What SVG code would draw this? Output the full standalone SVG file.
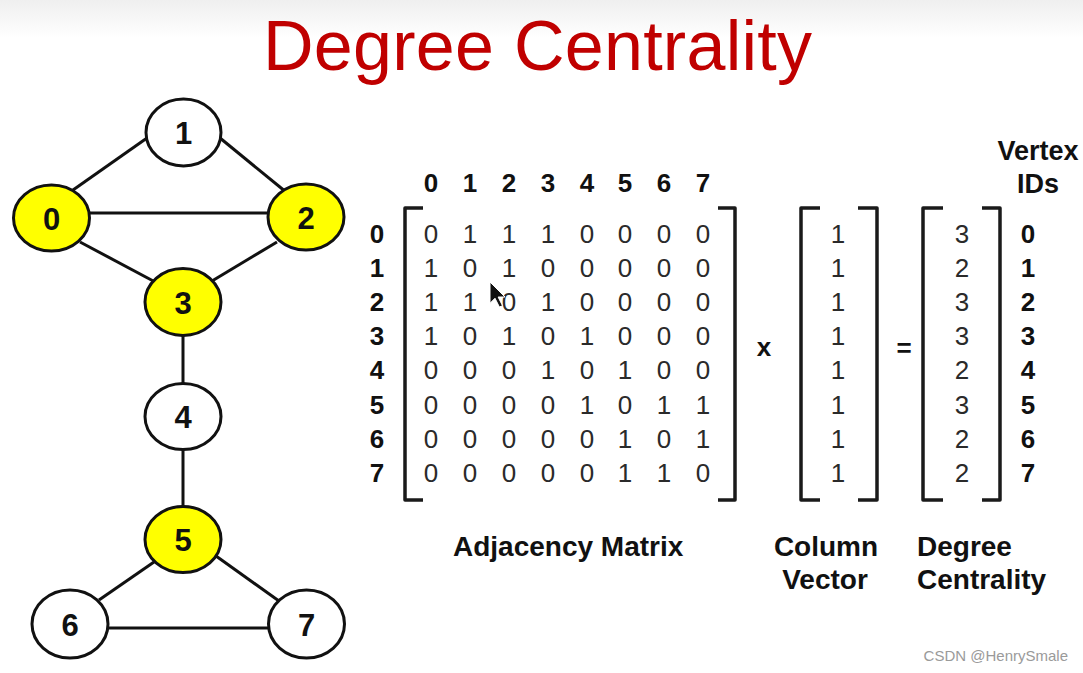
<svg xmlns="http://www.w3.org/2000/svg" width="1083" height="673" viewBox="0 0 1083 673">
<defs>
<linearGradient id="topfade" x1="0" y1="0" x2="0" y2="1">
<stop offset="0" stop-color="#efefef"/>
<stop offset="1" stop-color="#ffffff"/>
</linearGradient>
</defs>
<style>
.title{font-family:"Liberation Sans",Arial,sans-serif;font-size:70px;fill:#c00000;}
.nl{font-family:"Liberation Sans",Arial,sans-serif;font-size:31px;font-weight:bold;fill:#111;text-anchor:middle;}
.node{stroke:#111;stroke-width:3;}
.w{fill:#ffffff;}
.y{fill:#ffff00;}
.edge{stroke:#111;stroke-width:3;fill:none;}
.hd{font-family:"Liberation Sans",Arial,sans-serif;font-size:26px;font-weight:bold;fill:#111;text-anchor:middle;}
.v{font-family:"Liberation Sans",Arial,sans-serif;font-size:26px;fill:#2a2a2a;text-anchor:middle;}
.br{stroke:#1a1a1a;stroke-width:3.5;fill:none;stroke-linejoin:round;}
.lab{font-family:"Liberation Sans",Arial,sans-serif;font-size:28px;font-weight:bold;fill:#111;}
.wm{font-family:"Liberation Sans",Arial,sans-serif;font-size:15px;fill:#9a9a9a;text-anchor:end;}
</style>
<rect x="0" y="0" width="1083" height="673" fill="#ffffff"/>
<rect x="0" y="0" width="1083" height="38" fill="url(#topfade)"/>
<text class="title" x="263" y="70" textLength="549">Degree Centrality</text>

<g id="connectors">
<line class="edge" x1="73" y1="190" x2="147" y2="138"/>
<line class="edge" x1="220" y1="138" x2="286" y2="192"/>
<line class="edge" x1="88" y1="213" x2="270" y2="213"/>
<line class="edge" x1="80" y1="242" x2="157" y2="283"/>
<line class="edge" x1="277" y1="242" x2="212" y2="281"/>
<line class="edge" x1="183" y1="335" x2="183" y2="384"/>
<line class="edge" x1="183" y1="449" x2="183" y2="507"/>
<line class="edge" x1="154" y1="562" x2="99" y2="600"/>
<line class="edge" x1="216" y1="556" x2="279" y2="601"/>
<line class="edge" x1="107" y1="628" x2="269" y2="628"/>
</g>

<g id="node-1"><ellipse class="node w" cx="183.5" cy="132.5" rx="37.5" ry="33.5"/><text class="nl" x="183.5" y="144">1</text></g>
<g id="node-0"><ellipse class="node y" cx="51.5" cy="218" rx="38" ry="33"/><text class="nl" x="51.5" y="229.5">0</text></g>
<g id="node-2"><ellipse class="node y" cx="306" cy="217" rx="38" ry="33"/><text class="nl" x="306" y="228.5">2</text></g>
<g id="node-3"><ellipse class="node y" cx="183" cy="302" rx="38" ry="33.5"/><text class="nl" x="183" y="313.5">3</text></g>
<g id="node-4"><ellipse class="node w" cx="183" cy="416.5" rx="38" ry="33"/><text class="nl" x="183" y="428">4</text></g>
<g id="node-5"><ellipse class="node y" cx="183" cy="539.5" rx="38" ry="33"/><text class="nl" x="183" y="551">5</text></g>
<g id="node-6"><ellipse class="node w" cx="70" cy="624" rx="38" ry="34"/><text class="nl" x="70" y="635.5">6</text></g>
<g id="node-7"><ellipse class="node w" cx="306.5" cy="624" rx="38" ry="34"/><text class="nl" x="306.5" y="635.5">7</text></g>

<g id="adjacency-matrix">
<g class="headers">
<text class="hd" x="431" y="192">0</text><text class="hd" x="470" y="192">1</text><text class="hd" x="509" y="192">2</text><text class="hd" x="548" y="192">3</text><text class="hd" x="587" y="192">4</text><text class="hd" x="625" y="192">5</text><text class="hd" x="664" y="192">6</text><text class="hd" x="703" y="192">7</text>
</g>
<g class="rowlabels">
<text class="hd" x="377" y="243">0</text><text class="hd" x="377" y="277">1</text><text class="hd" x="377" y="311">2</text><text class="hd" x="377" y="345">3</text><text class="hd" x="377" y="379">4</text><text class="hd" x="377" y="414">5</text><text class="hd" x="377" y="448">6</text><text class="hd" x="377" y="482">7</text>
</g>
<path class="br" d="M423,208 H405 V500 H423"/>
<path class="br" d="M718,208 H735 V500 H718"/>
<g class="values">
<text class="v" y="243"><tspan x="431">0</tspan><tspan x="470">1</tspan><tspan x="509">1</tspan><tspan x="548">1</tspan><tspan x="587">0</tspan><tspan x="625">0</tspan><tspan x="664">0</tspan><tspan x="703">0</tspan></text>
<text class="v" y="277"><tspan x="431">1</tspan><tspan x="470">0</tspan><tspan x="509">1</tspan><tspan x="548">0</tspan><tspan x="587">0</tspan><tspan x="625">0</tspan><tspan x="664">0</tspan><tspan x="703">0</tspan></text>
<text class="v" y="311"><tspan x="431">1</tspan><tspan x="470">1</tspan><tspan x="509">0</tspan><tspan x="548">1</tspan><tspan x="587">0</tspan><tspan x="625">0</tspan><tspan x="664">0</tspan><tspan x="703">0</tspan></text>
<text class="v" y="345"><tspan x="431">1</tspan><tspan x="470">0</tspan><tspan x="509">1</tspan><tspan x="548">0</tspan><tspan x="587">1</tspan><tspan x="625">0</tspan><tspan x="664">0</tspan><tspan x="703">0</tspan></text>
<text class="v" y="379"><tspan x="431">0</tspan><tspan x="470">0</tspan><tspan x="509">0</tspan><tspan x="548">1</tspan><tspan x="587">0</tspan><tspan x="625">1</tspan><tspan x="664">0</tspan><tspan x="703">0</tspan></text>
<text class="v" y="414"><tspan x="431">0</tspan><tspan x="470">0</tspan><tspan x="509">0</tspan><tspan x="548">0</tspan><tspan x="587">1</tspan><tspan x="625">0</tspan><tspan x="664">1</tspan><tspan x="703">1</tspan></text>
<text class="v" y="448"><tspan x="431">0</tspan><tspan x="470">0</tspan><tspan x="509">0</tspan><tspan x="548">0</tspan><tspan x="587">0</tspan><tspan x="625">1</tspan><tspan x="664">0</tspan><tspan x="703">1</tspan></text>
<text class="v" y="482"><tspan x="431">0</tspan><tspan x="470">0</tspan><tspan x="509">0</tspan><tspan x="548">0</tspan><tspan x="587">0</tspan><tspan x="625">1</tspan><tspan x="664">1</tspan><tspan x="703">0</tspan></text>
</g>
</g>

<text class="hd" x="764" y="356">x</text>
<text class="hd" x="904" y="357">=</text>

<g id="column-vector">
<path class="br" d="M820,208 H801 V500 H820"/>
<path class="br" d="M858,208 H877 V500 H858"/>
<text class="v" x="838" y="243">1</text><text class="v" x="838" y="277">1</text><text class="v" x="838" y="311">1</text><text class="v" x="838" y="345">1</text><text class="v" x="838" y="379">1</text><text class="v" x="838" y="414">1</text><text class="v" x="838" y="448">1</text><text class="v" x="838" y="482">1</text>
</g>

<g id="degree-vector">
<path class="br" d="M943,208 H923 V500 H943"/>
<path class="br" d="M982,208 H1000 V500 H982"/>
<text class="v" x="962" y="243">3</text><text class="v" x="962" y="277">2</text><text class="v" x="962" y="311">3</text><text class="v" x="962" y="345">3</text><text class="v" x="962" y="379">2</text><text class="v" x="962" y="414">3</text><text class="v" x="962" y="448">2</text><text class="v" x="962" y="482">2</text>
</g>

<g id="vertex-ids">
<text class="hd" x="1038" y="160" style="font-size:27px">Vertex</text>
<text class="hd" x="1038" y="193" style="font-size:27px">IDs</text>
<text class="hd" x="1028" y="243">0</text><text class="hd" x="1028" y="277">1</text><text class="hd" x="1028" y="311">2</text><text class="hd" x="1028" y="345">3</text><text class="hd" x="1028" y="379">4</text><text class="hd" x="1028" y="414">5</text><text class="hd" x="1028" y="448">6</text><text class="hd" x="1028" y="482">7</text>
</g>

<g id="labels">
<text class="lab" x="453" y="556">Adjacency Matrix</text>
<text class="lab" x="826" y="556" text-anchor="middle">Column</text>
<text class="lab" x="825" y="589" text-anchor="middle">Vector</text>
<text class="lab" x="917" y="556">Degree</text>
<text class="lab" x="917" y="589">Centrality</text>
</g>

<polygon points="0,0 0,17 4,13 7.5,20 10,19 6.5,12 12,12" transform="translate(490,282) scale(1.25)" fill="#111" stroke="#ffffff" stroke-width="0.8"/>

<text class="wm" x="1068" y="661">CSDN @HenrySmale</text>
</svg>
